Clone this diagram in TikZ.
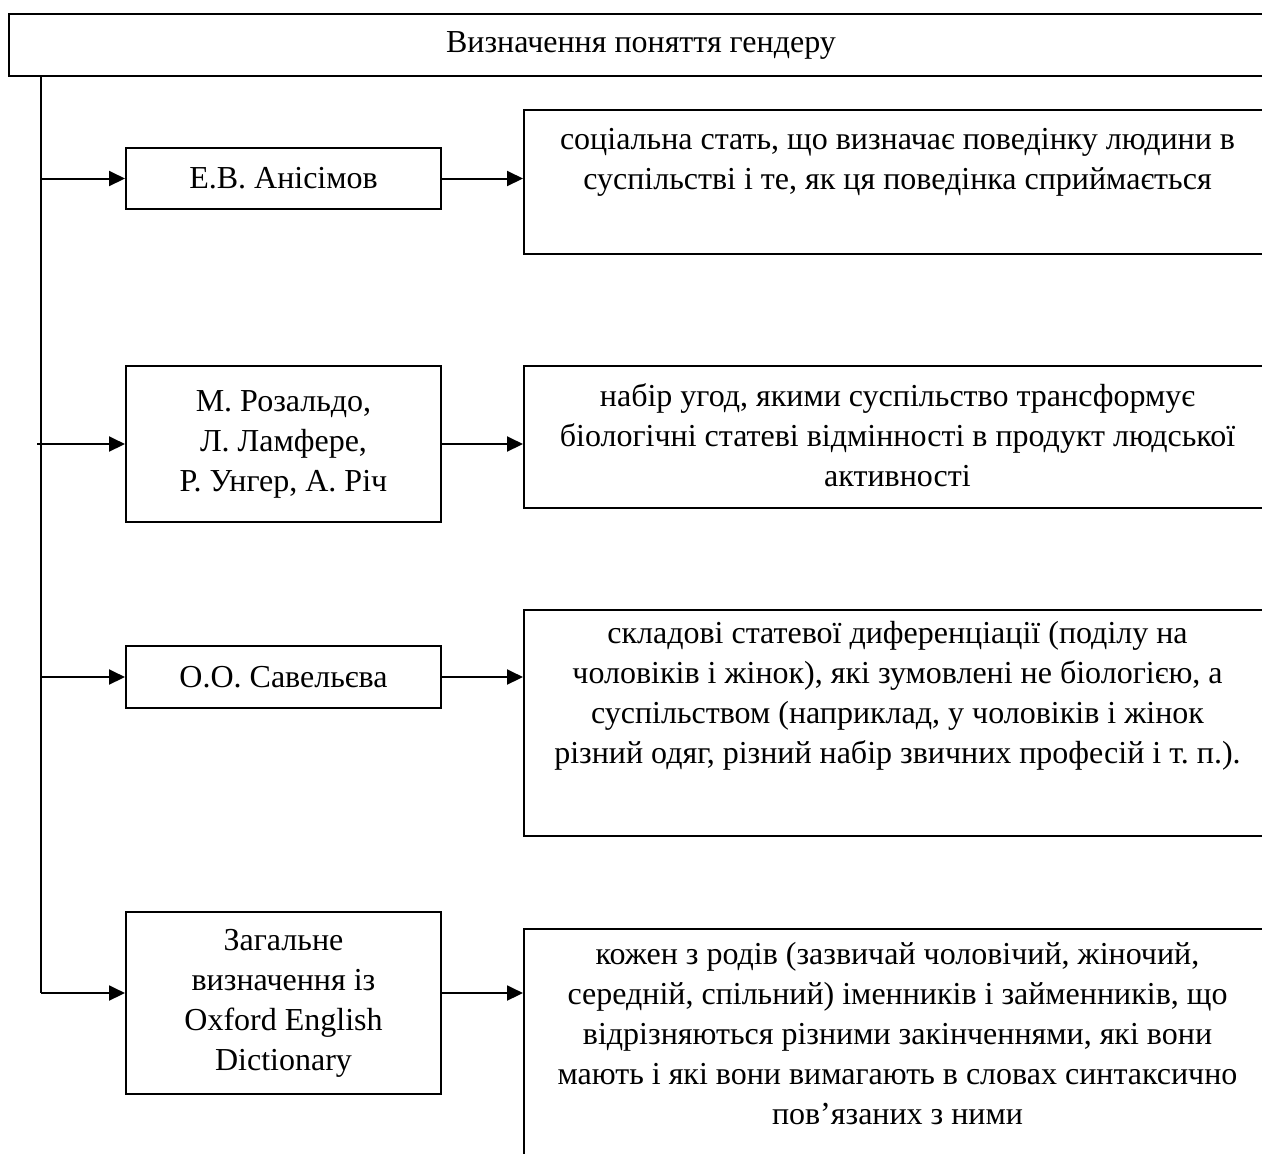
\documentclass[tikz,border=0pt]{standalone}
\usepackage{fontspec}
\setmainfont{Liberation Serif}
\usetikzlibrary{arrows.meta}
\begin{document}
\begin{tikzpicture}[x=0.5pt,y=-0.5pt,
  every node/.style={font=\fontsize{16}{20}\selectfont, inner sep=0pt},
  frame/.style={draw, line width=1pt, anchor=north west, align=center},
  txt/.style={align=center, anchor=north},
  link/.style={line width=1pt, -{Triangle[length=8pt,width=7.5pt]}},
  trunk/.style={line width=1pt}]
\useasboundingbox (0,0) rectangle (1262,1153);
\clip (0,0) rectangle (1262,1153);
% title bar
\node[frame, minimum width=632pt, minimum height=31pt] (top) at (8,13) {Визначення поняття гендеру};
% left column
\node[frame, minimum width=157.5pt, minimum height=30.5pt] (a1) at (125,147) {Е.В. Анісімов};
\node[frame, minimum width=157.5pt, minimum height=78pt] (a2) at (125,365) {М. Розальдо,\\ Л. Ламфере,\\ Р. Унгер, А. Річ};
\node[frame, minimum width=157.5pt, minimum height=31pt] (a3) at (125,645) {О.О. Савельєва};
\node[frame, minimum width=157.5pt, minimum height=91pt] (a4) at (125,911) {Загальне\\ визначення із\\ Oxford English\\ Dictionary};
% right column
\node[frame, minimum width=374.5pt, minimum height=72pt] (b1) at (523,109) {};
\node[txt] (b1t) at (897.5,128) {соціальна стать, що визначає поведінку людини в\\ суспільстві і те, як ця поведінка сприймається};
\node[frame, minimum width=374.5pt, minimum height=71pt] (b2) at (523,365) {};
\node[txt] (b2t) at (897.5,383) {набір угод, якими суспільство трансформує\\ біологічні статеві відмінності в продукт людської\\ активності};
\node[frame, minimum width=374.5pt, minimum height=113pt] (b3) at (523,609) {};
\node[txt] (b3t) at (897.5,621) {складові статевої диференціації (поділу на\\ чоловіків і жінок), які зумовлені не біологією, а\\ суспільством (наприклад, у чоловіків і жінок\\ різний одяг, різний набір звичних професій і т.~п.).};
\node[frame, minimum width=374.5pt, minimum height=140pt] (b4) at (523,928) {};
\node[txt] (b4t) at (897.5,942) {кожен з родів (зазвичай чоловічий, жіночий,\\ середній, спільний) іменників і займенників, що\\ відрізняються різними закінченнями, які вони\\ мають і які вони вимагають в словах синтаксично\\ пов’язаних з ними};
% trunk
\coordinate (t0) at (41,75);
\coordinate (t4) at (41,993);
\draw[trunk] (t0) -- (t4);
% arrows to left boxes
\draw[link] (t0 |- a1.west) -- (a1.west);
\draw[link] ([xshift=-2pt]t0 |- a2.west) -- (a2.west);
\draw[link] (t0 |- a3.west) -- (a3.west);
\draw[link] (t4) -- (t4 -| a4.west);
% arrows to right boxes
\draw[link] (a1.east) -- (a1.east -| b1.west);
\draw[link] (a2.east) -- (a2.east -| b2.west);
\draw[link] (a3.east) -- (a3.east -| b3.west);
\draw[link] (t4 -| a4.east) -- (t4 -| b4.west);
\end{tikzpicture}
\end{document}
